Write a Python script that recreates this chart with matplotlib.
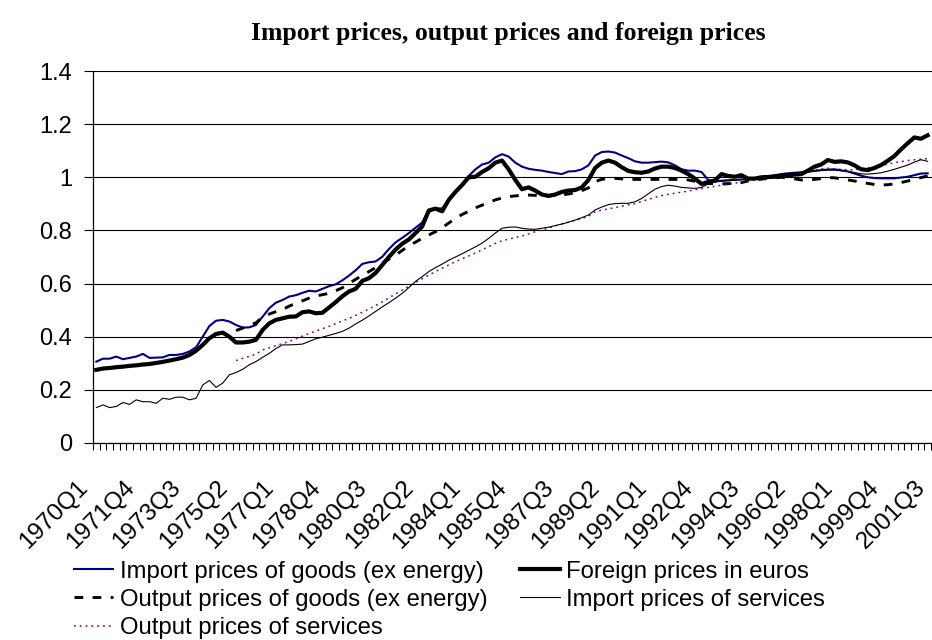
import matplotlib.pyplot as plt
import matplotlib.transforms as mtransforms
from matplotlib.ticker import FixedLocator

# category axis 1970Q1 .. 2001Q3, series run to 2001Q2
years = list(range(1970, 2002))
quarters = [f"{y}Q{q}" for y in years for q in range(1, 5)][:127]

import_goods = [
    0.306, 0.317, 0.317, 0.325, 0.315, 0.320, 0.325, 0.335, 0.320, 0.321,
    0.322, 0.331, 0.331, 0.335, 0.344, 0.360, 0.400, 0.440, 0.460, 0.463,
    0.457, 0.444, 0.434, 0.435, 0.444, 0.475, 0.507, 0.528, 0.538,
    0.551, 0.556, 0.565, 0.573, 0.570, 0.580, 0.590, 0.597, 0.612, 0.630,
    0.650, 0.674, 0.680, 0.683, 0.701, 0.730, 0.755, 0.772, 0.790, 0.810,
    0.830, 0.877, 0.882, 0.883, 0.915, 0.945, 0.971, 1.005, 1.030, 1.048,
    1.055, 1.075, 1.087, 1.078, 1.055, 1.040, 1.032, 1.028, 1.025, 1.020,
    1.016, 1.012, 1.022, 1.023, 1.030, 1.045, 1.082, 1.095, 1.097,
    1.093, 1.082, 1.072, 1.060, 1.055, 1.055, 1.057, 1.059, 1.056, 1.045,
    1.030, 1.025, 1.025, 1.020, 0.990, 0.985, 0.987, 0.989, 0.990, 0.992,
    0.994, 0.996, 1.000, 1.004, 1.008, 1.012, 1.015, 1.017, 1.019, 1.021,
    1.024, 1.027, 1.029, 1.030, 1.026, 1.022, 1.014, 1.006, 1.000, 0.997,
    0.996, 0.996, 0.996, 0.999, 1.002, 1.008, 1.014, 1.015,
]

foreign = [
    0.275, 0.280, 0.282, 0.285, 0.287, 0.290, 0.292, 0.295, 0.297, 0.301,
    0.305, 0.310, 0.315, 0.321, 0.331, 0.347, 0.369, 0.394, 0.410, 0.415,
    0.400, 0.378, 0.378, 0.381, 0.388, 0.425, 0.450, 0.463, 0.469,
    0.475, 0.476, 0.492, 0.495, 0.488, 0.490, 0.510, 0.530, 0.552, 0.570,
    0.580, 0.610, 0.620, 0.640, 0.670, 0.700, 0.728, 0.750, 0.766, 0.790,
    0.815, 0.875, 0.882, 0.872, 0.915, 0.945, 0.971, 1.000, 1.002, 1.020,
    1.034, 1.055, 1.063, 1.030, 0.990, 0.955, 0.962, 0.950, 0.935, 0.930,
    0.935, 0.945, 0.950, 0.952, 0.962, 0.990, 1.035, 1.055, 1.063,
    1.055, 1.038, 1.024, 1.019, 1.017, 1.022, 1.033, 1.040, 1.040, 1.035,
    1.025, 1.012, 0.995, 0.975, 0.982, 0.988, 1.012, 1.005, 1.002, 1.008,
    0.995, 0.995, 1.000, 1.001, 1.002, 1.005, 1.008, 1.010, 1.012, 1.025,
    1.040, 1.048, 1.065, 1.058, 1.060, 1.056, 1.045, 1.030, 1.027, 1.035,
    1.046, 1.062, 1.080, 1.105, 1.128, 1.150, 1.145, 1.158,
]

output_goods = [None] * 21 + [
    0.423, 0.432, 0.442, 0.452, 0.474, 0.485, 0.494, 0.502,
    0.515, 0.525, 0.535, 0.545, 0.553, 0.558, 0.563, 0.573, 0.584, 0.600,
    0.616, 0.630, 0.645, 0.660, 0.677, 0.692, 0.707, 0.725, 0.742, 0.756,
    0.770, 0.783, 0.795, 0.810, 0.828, 0.845, 0.860, 0.872, 0.885, 0.895,
    0.905, 0.915, 0.922, 0.927, 0.930, 0.932, 0.933, 0.932, 0.930, 0.930,
    0.932, 0.934, 0.937, 0.942, 0.950, 0.960, 0.984, 0.992, 0.996,
    0.996, 0.994, 0.992, 0.992, 0.992, 0.992, 0.992, 0.992, 0.992, 0.992,
    0.992, 0.990, 0.985, 0.978, 0.977, 0.976, 0.975, 0.976, 0.977, 0.980,
    0.986, 0.990, 0.993, 0.996, 0.998, 1.000, 0.998, 0.994, 0.990, 0.990,
    0.992, 0.995, 0.999, 0.998, 0.994, 0.990, 0.986, 0.981, 0.977, 0.973,
    0.971, 0.972, 0.975, 0.980, 0.986, 0.992, 0.999, 1.005,
]

import_services = [
    0.133, 0.143, 0.133, 0.137, 0.152, 0.145, 0.162, 0.155, 0.155, 0.149,
    0.168, 0.164, 0.172, 0.172, 0.162, 0.168, 0.218, 0.235, 0.209, 0.225,
    0.256, 0.265, 0.277, 0.294, 0.306, 0.322, 0.337, 0.355, 0.369,
    0.369, 0.370, 0.372, 0.382, 0.392, 0.398, 0.405, 0.412, 0.420, 0.432,
    0.448, 0.462, 0.478, 0.495, 0.512, 0.528, 0.545, 0.563, 0.585, 0.608,
    0.626, 0.645, 0.660, 0.673, 0.688, 0.700, 0.712, 0.725, 0.738, 0.752,
    0.770, 0.790, 0.808, 0.812, 0.813, 0.808, 0.805, 0.804, 0.808, 0.812,
    0.818, 0.824, 0.831, 0.839, 0.848, 0.858, 0.877, 0.888, 0.897,
    0.901, 0.902, 0.902, 0.908, 0.920, 0.938, 0.955, 0.965, 0.970, 0.967,
    0.962, 0.960, 0.958, 0.962, 0.975, 0.982, 0.985, 0.987, 0.989, 0.991,
    0.995, 0.998, 1.001, 1.004, 1.007, 1.011, 1.013, 1.015, 1.017, 1.020,
    1.023, 1.026, 1.027, 1.027, 1.025, 1.022, 1.018, 1.013, 1.012, 1.014,
    1.017, 1.023, 1.030, 1.038, 1.046, 1.057, 1.066, 1.060,
]

output_services = [None] * 21 + [
    0.310, 0.318, 0.326, 0.334, 0.350, 0.358, 0.366, 0.374,
    0.382, 0.392, 0.402, 0.412, 0.421, 0.430, 0.439, 0.449, 0.459, 0.469,
    0.480, 0.492, 0.504, 0.517, 0.531, 0.546, 0.561, 0.575, 0.590, 0.604,
    0.618, 0.632, 0.645, 0.658, 0.670, 0.682, 0.693, 0.704, 0.715, 0.727,
    0.739, 0.751, 0.761, 0.767, 0.773, 0.779, 0.787, 0.795, 0.802, 0.809,
    0.817, 0.824, 0.831, 0.838, 0.845, 0.853, 0.870, 0.876, 0.881,
    0.886, 0.891, 0.896, 0.901, 0.909, 0.917, 0.924, 0.931, 0.936, 0.940,
    0.944, 0.948, 0.953, 0.957, 0.962, 0.966, 0.970, 0.974, 0.978, 0.982,
    0.986, 0.990, 0.994, 0.998, 1.002, 1.006, 1.010, 1.013, 1.017, 1.022,
    1.027, 1.032, 1.034, 1.032, 1.030, 1.028, 1.028, 1.032, 1.036, 1.040,
    1.044, 1.049, 1.055, 1.059, 1.063, 1.066, 1.068, 1.070,
]

yticks = [0, 0.2, 0.4, 0.6, 0.8, 1.0, 1.2, 1.4]
ytick_labels = ['0', '0.2', '0.4', '0.6', '0.8', '1', '1.2', '1.4']

n_cat = len(quarters)
x = list(range(len(import_goods)))

plt.rcParams['font.family'] = ['Liberation Sans', 'DejaVu Sans']

fig = plt.figure(figsize=(9.32, 6.4), dpi=100)
# plot area runs a little past the right edge of the picture, as in the original crop
ax = fig.add_axes([0.0998, 0.308, 0.9062, 0.581])

def clean(vals):
    return [float('nan') if v is None else v for v in vals]

l_ig, = ax.plot(x, import_goods, color='#000080', lw=1.5,
                label='Import prices of goods (ex energy)')
l_og, = ax.plot(x, clean(output_goods), color='black', lw=2.1, dashes=(3, 3.2),
                label='Output prices of goods (ex energy)')
l_os, = ax.plot(x, clean(output_services), color='#800080', lw=1.1, dashes=(1.2, 2.6),
                label='Output prices of services')
l_is, = ax.plot(x, import_services, color='black', lw=0.8,
                label='Import prices of services')
l_fp, = ax.plot(x, foreign, color='black', lw=3.0,
                label='Foreign prices in euros')

ax.set_xlim(-0.5, n_cat - 0.5)
ax.set_ylim(0, 1.4)
ax.set_yticks(yticks)
ax.set_yticklabels(ytick_labels)
ax.grid(axis='y', color='black', lw=0.8)
ax.set_axisbelow(True)

label_pos = list(range(0, n_cat, 7))
ax.xaxis.set_major_locator(FixedLocator(label_pos))
ax.set_xticklabels([quarters[i] for i in label_pos], rotation=45, ha='right',
                   va='center', rotation_mode='anchor')
ax.xaxis.set_minor_locator(FixedLocator([i - 0.5 for i in range(n_cat + 1)]))
ax.tick_params(axis='x', which='major', length=0, pad=29.5, labelsize=17.5)
ax.tick_params(axis='x', which='minor', length=5, width=0.8, direction='out')
ax.tick_params(axis='y', length=6.5, width=0.8, labelsize=17, pad=8.5)

shift = mtransforms.ScaledTranslation(-0.12, 0, fig.dpi_scale_trans)
for lab in ax.get_xticklabels():
    lab.set_transform(lab.get_transform() + shift)

for s in ['top', 'right']:
    ax.spines[s].set_visible(False)
for s in ['left', 'bottom']:
    ax.spines[s].set_linewidth(0.9)

fig.text(0.545, 0.948, 'Import prices, output prices and foreign prices',
         ha='center', va='center', fontsize=18.5, fontweight='bold',
         family='Liberation Serif')

fig.legend(handles=[l_ig, l_og, l_os, l_fp, l_is], loc='upper left',
           bbox_to_anchor=(0.0794, 0.124), ncol=2, frameon=False, fontsize=17.2,
           handlelength=1.65, handletextpad=0.27, columnspacing=1.38,
           labelspacing=0.26, borderaxespad=0, borderpad=0)

fig.savefig('out.png', dpi=100)
